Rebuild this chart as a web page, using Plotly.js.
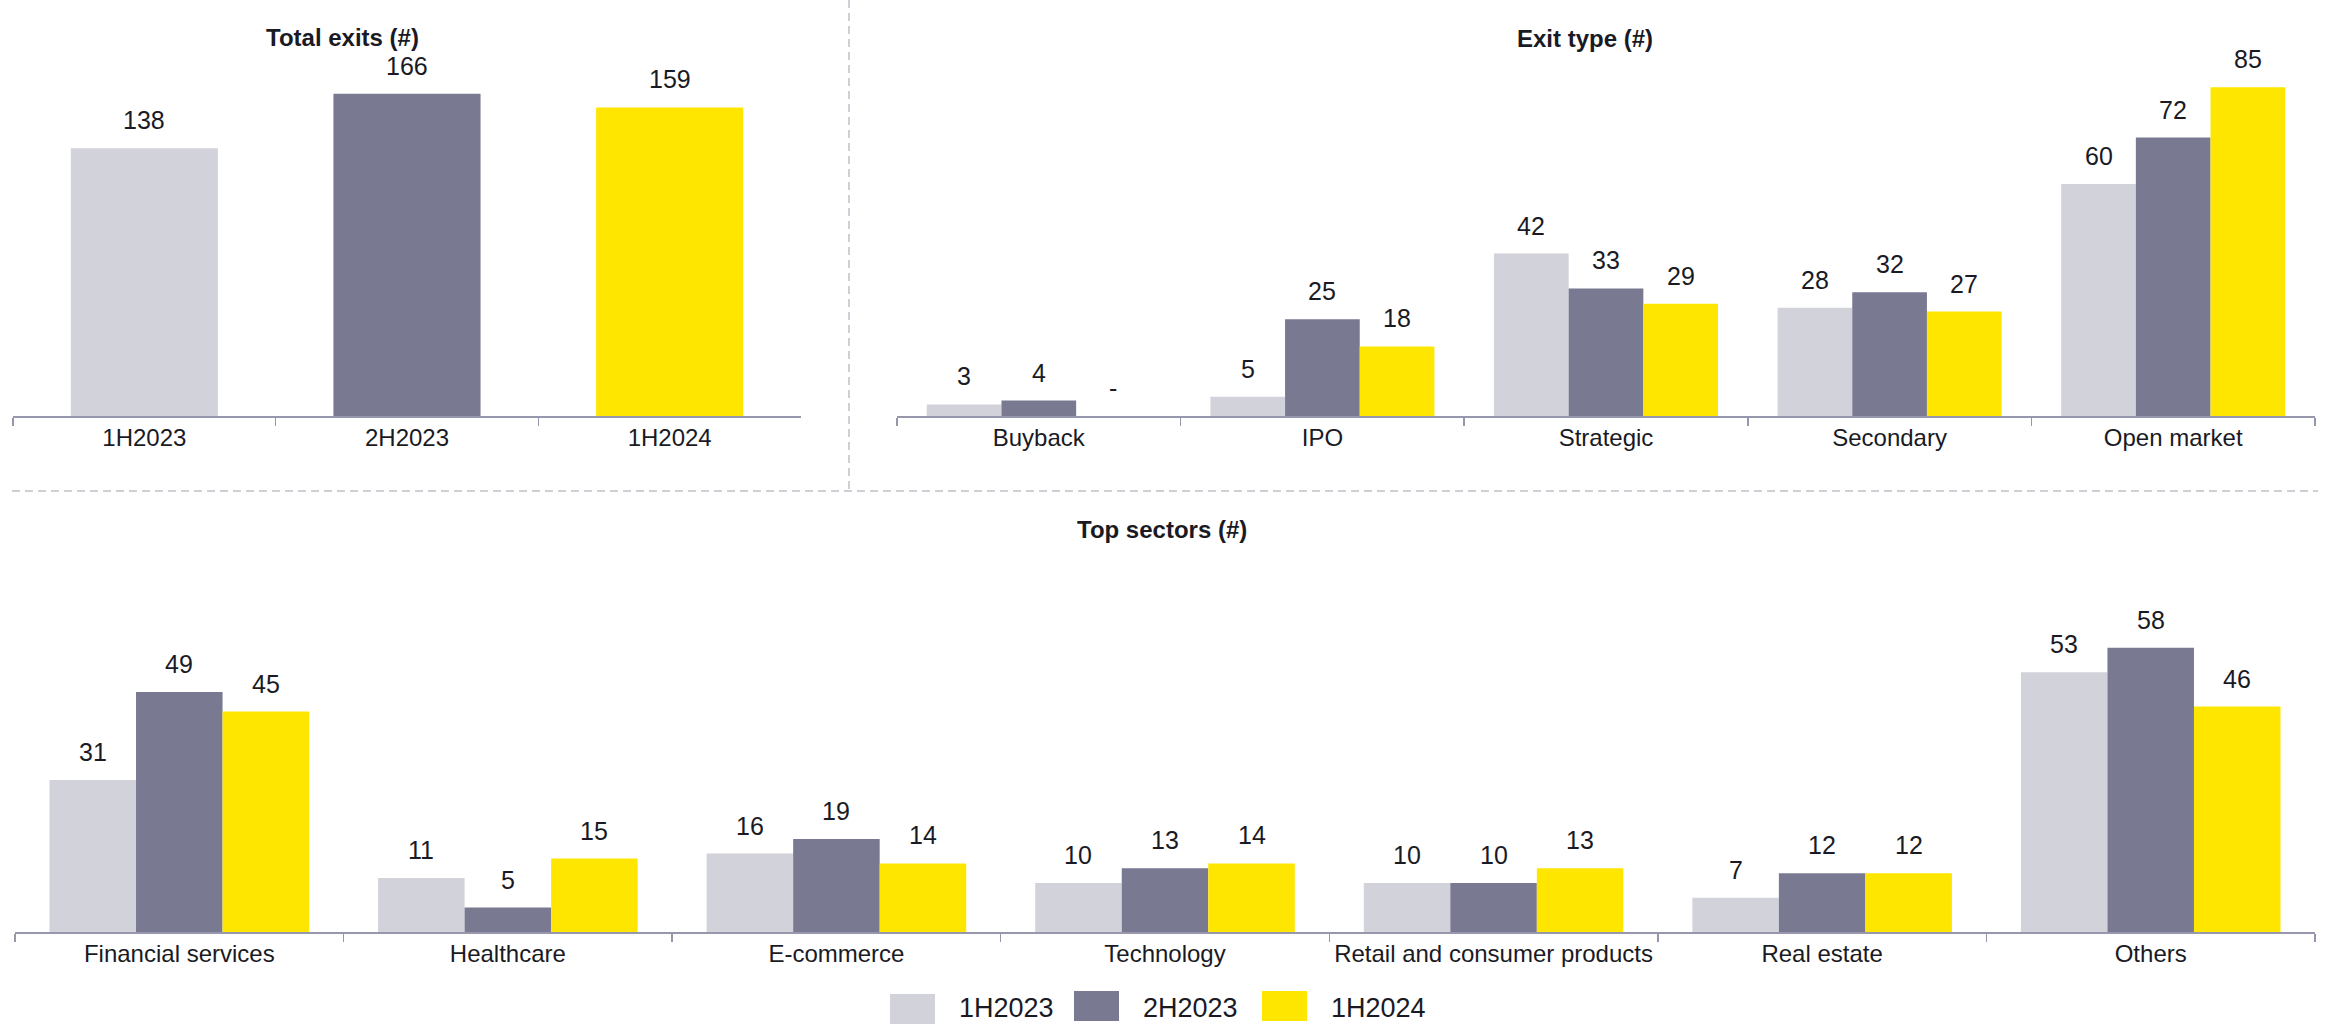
<!DOCTYPE html>
<html><head><meta charset="utf-8">
<script src="https://cdn.plot.ly/plotly-3.0.1.min.js"></script>
<style>html,body{margin:0;padding:0;background:#fff}#chart{width:2330px;height:1024px}</style>
</head><body><div id="chart"></div>
<script>
// ---- data ----
const periods = ['1H2023', '2H2023', '1H2024'];
const periodColors = ['#D2D2DA', '#797991', '#FFE600'];

const totalExits = [138, 166, 159];

const exitTypes = ['Buyback', 'IPO', 'Strategic', 'Secondary', 'Open market'];
const exitType1H2023 = [3, 5, 42, 28, 60];
const exitType2H2023 = [4, 25, 33, 32, 72];
const exitType1H2024 = [0, 18, 29, 27, 85];   // "-" = none

const sectors = ['Financial services', 'Healthcare', 'E-commerce', 'Technology',
  'Retail and consumer products', 'Real estate', 'Others'];
const sector1H2023 = [31, 11, 16, 10, 10, 7, 53];
const sector2H2023 = [49, 5, 19, 13, 10, 12, 58];
const sector1H2024 = [45, 15, 14, 14, 13, 12, 46];

const panelTitles = ['Total exits (#)', 'Exit type (#)', 'Top sectors (#)'];

// ---- styling / layout helpers ----
const W = 2330, H = 1024;
const px = x => x / W;
const py = y => 1 - y / H;
const FONT = 'Liberation Sans, Arial, sans-serif';
const TXT = '#1a1a24';
const AXC = '#9696ac';
const GROUP_GAP = 0.21;
const barW = (1 - GROUP_GAP) / 3;

const fmt = v => (v === 0 ? '-' : String(v));

const traces = [];
// Panel 1: total exits, one trace coloured per period
traces.push({
  type: 'bar', x: periods, y: totalExits, xaxis: 'x', yaxis: 'y',
  marker: { color: periodColors, line: { width: 0 } }, width: 0.56,
  hoverinfo: 'skip', showlegend: false
});
// Panel 2 & 3 grouped series
const exitSeries = [exitType1H2023, exitType2H2023, exitType1H2024];
const sectorSeries = [sector1H2023, sector2H2023, sector1H2024];
exitSeries.forEach((s, i) => traces.push({
  type: 'bar', name: periods[i], x: exitTypes, y: s, xaxis: 'x2', yaxis: 'y2',
  marker: { color: periodColors[i], line: { width: 0 } }, hoverinfo: 'skip', showlegend: false
}));
sectorSeries.forEach((s, i) => traces.push({
  type: 'bar', name: periods[i], x: sectors, y: s, xaxis: 'x3', yaxis: 'y3',
  marker: { color: periodColors[i], line: { width: 0 } }, hoverinfo: 'skip', showlegend: false
}));

// ---- value labels (annotations in data coordinates) ----
const annotations = [];
const LABEL_SHIFT = 12;
function valueLabel(xref, yref, xpos, v) {
  annotations.push({
    xref: xref, yref: yref, x: xpos, y: v, text: fmt(v), showarrow: false,
    xanchor: 'center', yanchor: 'bottom', yshift: LABEL_SHIFT,
    font: { family: FONT, size: 25, color: TXT }
  });
}
totalExits.forEach((v, i) => valueLabel('x', 'y', i, v));
exitSeries.forEach((s, si) => s.forEach((v, i) => valueLabel('x2', 'y2', i + (si - 1) * barW, v)));
sectorSeries.forEach((s, si) => s.forEach((v, i) => valueLabel('x3', 'y3', i + (si - 1) * barW, v)));

// ---- panel titles ----
const titlePos = [[342, 37], [1585, 38], [1162, 529]];
panelTitles.forEach((t, i) => annotations.push({
  xref: 'paper', yref: 'paper', x: px(titlePos[i][0]), y: py(titlePos[i][1]),
  xanchor: 'center', yanchor: 'middle', showarrow: false, text: '<b>' + t + '</b>',
  font: { family: FONT, size: 24, color: TXT }
}));

// ---- custom legend ----
const shapes = [];
const legX = [890, 1074, 1262];
const legTop = [994, 991, 991];
periods.forEach((p, i) => {
  shapes.push({
    type: 'rect', xref: 'paper', yref: 'paper',
    x0: px(legX[i]), x1: px(legX[i] + 45), y0: py(legTop[i] + 30), y1: py(legTop[i]),
    fillcolor: periodColors[i], line: { width: 0 }
  });
  annotations.push({
    xref: 'paper', yref: 'paper', x: px(legX[i] + 67), y: py(1008),
    xanchor: 'left', yanchor: 'middle', showarrow: false, text: p,
    font: { family: FONT, size: 27, color: TXT }
  });
});

// ---- dashed separators ----
const sepLine = { color: '#cfcfd6', width: 2, dash: '8px,5px' };
shapes.push({ type: 'line', xref: 'paper', yref: 'paper', x0: px(849), x1: px(849), y0: 1, y1: py(490), line: sepLine });
shapes.push({ type: 'line', xref: 'paper', yref: 'paper', x0: px(12), x1: px(2318), y0: py(491), y1: py(491), line: sepLine });

function xAx(d0, d1, anchor) {
  return {
    domain: [px(d0), px(d1)], anchor: anchor, type: 'category',
    showgrid: false, zeroline: false, showline: true, linecolor: AXC, linewidth: 1.5,
    ticks: 'outside', ticklen: 8, tickwidth: 1.5, tickcolor: AXC, tickson: 'boundaries',
    tickangle: 0, tickfont: { family: FONT, size: 24, color: TXT }, fixedrange: true
  };
}
function yAx(top, bottom, maxv, anchor) {
  return {
    domain: [py(bottom), py(top)], anchor: anchor, range: [0, maxv],
    visible: false, showgrid: false, zeroline: false, fixedrange: true
  };
}

const layout = {
  width: W, height: H, margin: { l: 0, r: 0, t: 0, b: 0 },
  paper_bgcolor: '#ffffff', plot_bgcolor: 'rgba(0,0,0,0)',
  barmode: 'group', bargap: GROUP_GAP, bargroupgap: 0,
  showlegend: false,
  font: { family: FONT, color: TXT },
  xaxis: xAx(13, 801, 'y'),
  yaxis: yAx(60, 416, 356 / 1.941, 'x'),
  xaxis2: xAx(897, 2315, 'y2'),
  yaxis2: yAx(60, 416, 356 / 3.867, 'x2'),
  xaxis3: xAx(15, 2315, 'y3'),
  yaxis3: yAx(600, 932, 332 / 4.9, 'x3'),
  annotations: annotations,
  shapes: shapes
};

Plotly.newPlot('chart', traces, layout, { staticPlot: true, displayModeBar: false });
</script>
</body></html>
